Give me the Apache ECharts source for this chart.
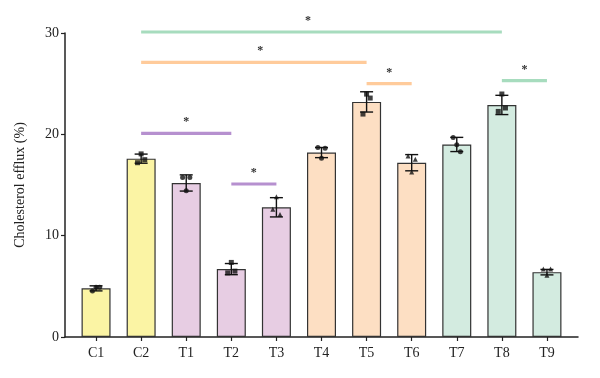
<!DOCTYPE html>
<html>
<head>
<meta charset="utf-8">
<script src="https://cdn.jsdelivr.net/npm/echarts@6/dist/echarts.min.js"></script>
<style>
  html, body { margin: 0; padding: 0; background: #fff; }
  #chart { width: 600px; height: 378px; }
</style>
</head>
<body>
<div id="chart"></div>
<script>
// data
var categories = ['C1', 'C2', 'T1', 'T2', 'T3', 'T4', 'T5', 'T6', 'T7', 'T8', 'T9'];
var means = [4.8, 17.6, 15.2, 6.7, 12.8, 18.2, 23.2, 17.2, 19.0, 22.9, 6.4];
var sds = [0.25, 0.45, 0.8, 0.55, 0.95, 0.5, 1.0, 0.8, 0.7, 0.95, 0.27];
var replicates = [
  [4.55, 4.9, 4.9],
  [17.2, 17.5, 18.07],
  [15.73, 15.73, 14.44],
  [6.33, 6.5, 7.36],
  [12.6, 12.1, 13.85],
  [18.7, 18.63, 17.64],
  [22.0, 23.58, 23.97],
  [17.87, 17.54, 16.29],
  [19.68, 18.27, 18.96],
  [22.26, 22.6, 23.98],
  [6.7, 6.7, 6.1]
];
var groups = ['ctrl', 'ctrl', 'a', 'a', 'a', 'b', 'b', 'b', 'c', 'c', 'c'];
var markers = ['circle', 'rect', 'circle', 'rect', 'triangle', 'circle', 'rect', 'triangle', 'circle', 'rect', 'triangle'];
// significance brackets: from, to, level, star position
var sigFrom = [1, 1, 6, 9, 1, 3];
var sigTo = [9, 6, 7, 10, 3, 4];
var sigLevel = [30.1, 27.1, 25.0, 25.3, 20.1, 15.1];
var sigStar = [4.7, 3.64, 6.5, 9.5, 2.0, 3.5];
var sigGroup = ['c', 'b', 'b', 'c', 'a', 'a'];
var yTicks = [0, 10, 20, 30];

var fillColors = { ctrl: '#FBF4A4', a: '#E7CDE3', b: '#FDDFC3', c: '#D3EBE0' };
var lineColors = { a: '#B690CF', b: '#FFCB9B', c: '#A7DCBE' };
var jitter = [-0.08, 0.08, 0];
var font = '"Liberation Serif", "DejaVu Serif", serif';

var chart = echarts.init(document.getElementById('chart'));

var barData = means.map(function (m, i) {
  return { value: m, itemStyle: { color: fillColors[groups[i]] } };
});
var errData = means.map(function (m, i) { return [i, m - sds[i], m + sds[i]]; });
var pointData = [];
replicates.forEach(function (r, i) {
  r.forEach(function (v, k) {
    pointData.push({ value: [i + jitter[k], v], symbol: markers[i] });
  });
});
var sigData = sigFrom.map(function (f, i) {
  return [f, sigTo[i], sigLevel[i], sigStar[i], i];
});

chart.setOption({
  animation: false,
  grid: [
    { left: 65, right: 22, top: 33, bottom: 41 },
    { left: 73.5, right: 30.5, top: 33, bottom: 41 }
  ],
  xAxis: [
    { gridIndex: 0, type: 'value', min: 0, max: 1, axisLine: { show: true, lineStyle: { color: '#222', width: 1.5 } },
      axisTick: { show: false }, axisLabel: { show: false }, splitLine: { show: false } },
    { gridIndex: 1, type: 'category', data: categories,
      axisLine: { show: false },
      axisTick: { show: true, alignWithLabel: true, length: 4, lineStyle: { color: '#222', width: 1.2 } },
      axisLabel: { color: '#222', fontFamily: font, fontSize: 14, margin: 9 } },
    { gridIndex: 1, type: 'value', min: -0.5, max: 10.5, show: false }
  ],
  yAxis: [
    { gridIndex: 0, type: 'value', min: 0, max: 30, interval: 10,
      name: 'Cholesterol efflux (%)', nameLocation: 'middle', nameGap: 38,
      nameTextStyle: { color: '#222', fontFamily: font, fontSize: 14 },
      axisLine: { show: true, lineStyle: { color: '#222', width: 1.5 } },
      axisTick: { show: true, length: 4, lineStyle: { color: '#222', width: 1.2 } },
      axisLabel: { color: '#222', fontFamily: font, fontSize: 14, margin: 6,
        formatter: function (v) { return yTicks.indexOf(v) >= 0 ? String(v) : ''; } },
      splitLine: { show: false } },
    { gridIndex: 1, type: 'value', min: 0, max: 30, show: false }
  ],
  series: [
    {
      type: 'bar', xAxisIndex: 1, yAxisIndex: 1, data: barData, barWidth: 29,
      itemStyle: { borderColor: '#333', borderWidth: 1.2 }
    },
    {
      type: 'custom', xAxisIndex: 2, yAxisIndex: 1, data: errData, z: 5,
      renderItem: function (params, api) {
        var lo = api.coord([api.value(0), api.value(1)]);
        var hi = api.coord([api.value(0), api.value(2)]);
        var w = 6.5;
        var st = { stroke: '#111', lineWidth: 1.4 };
        return { type: 'group', children: [
          { type: 'line', shape: { x1: lo[0], y1: lo[1], x2: hi[0], y2: hi[1] }, style: st },
          { type: 'line', shape: { x1: lo[0] - w, y1: lo[1], x2: lo[0] + w, y2: lo[1] }, style: st },
          { type: 'line', shape: { x1: hi[0] - w, y1: hi[1], x2: hi[0] + w, y2: hi[1] }, style: st }
        ] };
      }
    },
    {
      type: 'scatter', xAxisIndex: 2, yAxisIndex: 1, data: pointData, symbolSize: 5, z: 6,
      itemStyle: { color: '#111' }
    },
    {
      type: 'custom', xAxisIndex: 2, yAxisIndex: 1, data: sigData, z: 4,
      renderItem: function (params, api) {
        var a = api.coord([api.value(0), api.value(2)]);
        var b = api.coord([api.value(1), api.value(2)]);
        var s = api.coord([api.value(3), api.value(2)]);
        var col = lineColors[sigGroup[api.value(4)]];
        return { type: 'group', children: [
          { type: 'line', shape: { x1: a[0], y1: a[1], x2: b[0], y2: b[1] },
            style: { stroke: col, lineWidth: 3.2 } },
          { type: 'text', x: s[0], y: s[1] - 5,
            style: { text: '*', fill: '#333', font: 'bold 12px ' + font, align: 'center', verticalAlign: 'bottom' } }
        ] };
      }
    }
  ]
});
</script>
</body>
</html>
